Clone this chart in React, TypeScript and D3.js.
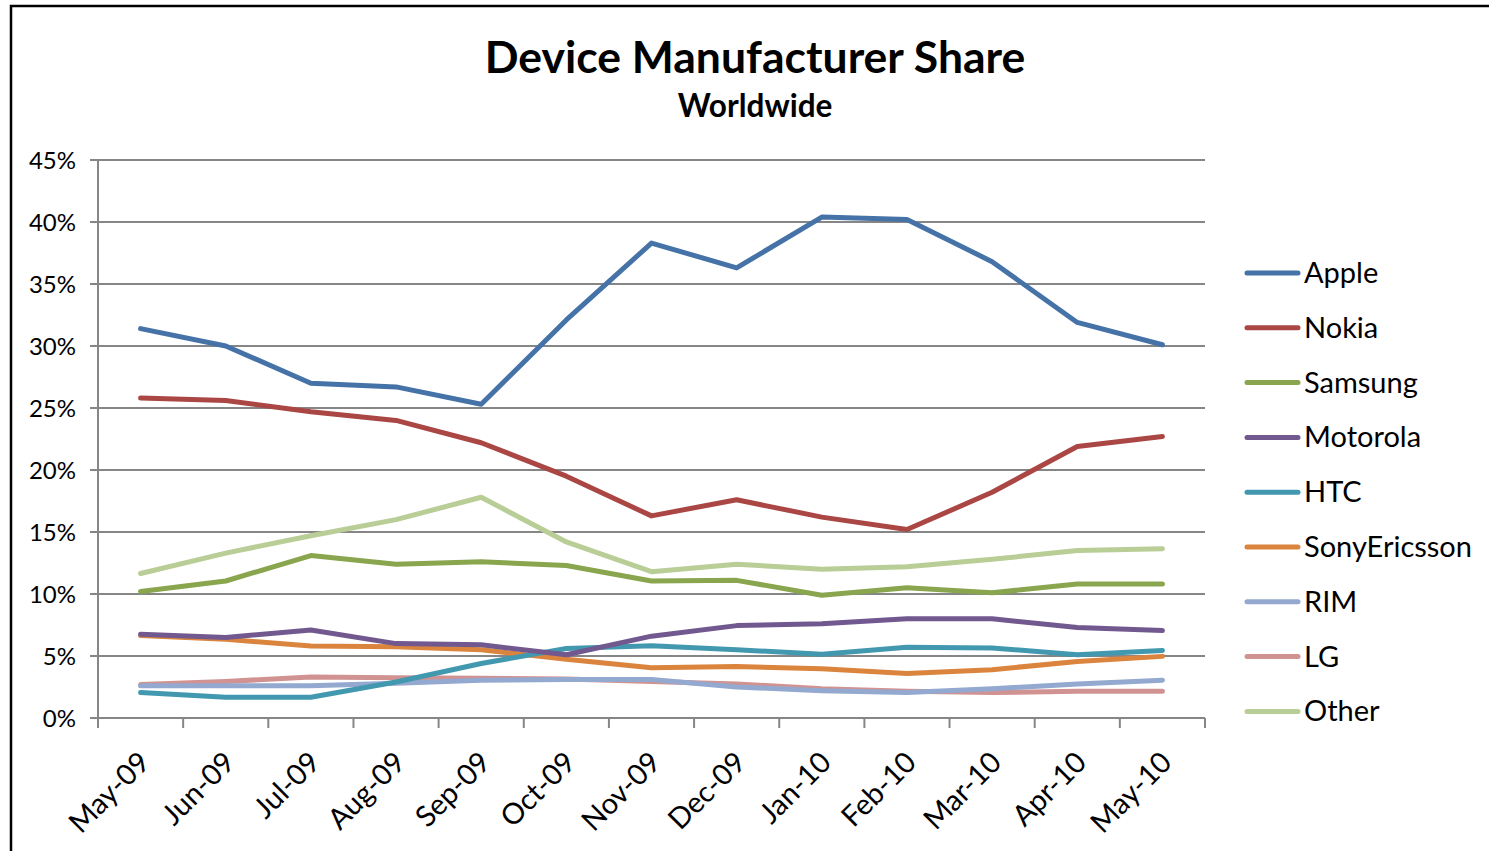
import React from "react";
import * as d3 from "d3";

const categories = ["May-09","Jun-09","Jul-09","Aug-09","Sep-09","Oct-09","Nov-09","Dec-09","Jan-10","Feb-10","Mar-10","Apr-10","May-10"];
const apple = [31.4, 30.0, 27.0, 26.7, 25.3, 32.1, 38.3, 36.3, 40.4, 40.2, 36.8, 31.9, 30.1];
const nokia = [25.8, 25.6, 24.7, 24.0, 22.2, 19.5, 16.3, 17.6, 16.2, 15.2, 18.2, 21.9, 22.7];
const samsung = [10.2, 11.05, 13.1, 12.4, 12.6, 12.3, 11.05, 11.1, 9.9, 10.5, 10.1, 10.8, 10.8];
const motorola = [6.75, 6.5, 7.1, 6.0, 5.9, 5.1, 6.6, 7.45, 7.6, 8.0, 8.0, 7.3, 7.05];
const htc = [2.05, 1.67, 1.67, 2.9, 4.4, 5.6, 5.83, 5.5, 5.15, 5.7, 5.65, 5.1, 5.45];
const sonyEricsson = [6.65, 6.35, 5.8, 5.75, 5.5, 4.73, 4.05, 4.15, 3.98, 3.58, 3.9, 4.55, 4.97];
const rim = [2.6, 2.6, 2.6, 2.8, 3.05, 3.1, 3.1, 2.5, 2.2, 2.05, 2.35, 2.75, 3.05];
const lg = [2.7, 2.95, 3.3, 3.25, 3.2, 3.15, 2.95, 2.75, 2.35, 2.15, 2.05, 2.15, 2.15];
const other = [11.65, 13.3, 14.7, 16.0, 17.8, 14.2, 11.8, 12.4, 12.0, 12.2, 12.8, 13.5, 13.65];
const yTicks = [0, 5, 10, 15, 20, 25, 30, 35, 40, 45];

const seriesNames = ["Apple","Nokia","Samsung","Motorola","HTC","SonyEricsson","RIM","LG","Other"];
const seriesValues = [apple, nokia, samsung, motorola, htc, sonyEricsson, rim, lg, other];
const seriesColors = ["#4572A7","#AA4643","#89A54E","#71588F","#4198AF","#DB843D","#93A9CF","#D19392","#B9CD96"];

const W = 1489, H = 851;
const plot = { left: 98, right: 1205, top: 160, bottom: 718 };
const FONT = "Lato, 'Open Sans', sans-serif";

export default function App() {
  const x = d3.scaleBand<string>().domain(categories).range([plot.left, plot.right]);
  const y = d3.scaleLinear().domain([0, 45]).range([plot.bottom, plot.top]);
  const cx = (c: string) => (x(c) as number) + x.bandwidth() / 2;
  const line = d3.line<number>().x((_, i) => cx(categories[i])).y((v) => y(v));
  const boundaries = d3.range(categories.length + 1).map((k) => plot.left + k * x.bandwidth());
  const drawOrder = [8, 7, 6, 5, 4, 3, 2, 1, 0];

  return (
    <svg width={W} height={H} style={{ position: "absolute", left: 0, top: 0, background: "#fff" }} fontFamily={FONT}>
      <rect x={0} y={0} width={W} height={H} fill="#fff" />
      <path d={`M11,${H + 5} V6 H${W + 5}`} fill="none" stroke="#000" strokeWidth={2.5} />
      <text x={755} y={73} textAnchor="middle" fontSize={44.5} fontWeight={700} fill="#000">Device Manufacturer Share</text>
      <text x={755} y={117} textAnchor="middle" fontSize={31.5} fontWeight={700} fill="#000">Worldwide</text>

      {yTicks.map((t) => (
        <g key={t}>
          {t > 0 && <line x1={plot.left} x2={plot.right} y1={y(t)} y2={y(t)} stroke="#868686" strokeWidth={2} />}
          <line x1={plot.left - 8} x2={plot.left} y1={y(t)} y2={y(t)} stroke="#868686" strokeWidth={2} />
          <text x={76} y={y(t) + 8.5} textAnchor="end" fontSize={24} fill="#000">{t}%</text>
        </g>
      ))}
      <line x1={plot.left} x2={plot.left} y1={plot.top} y2={plot.bottom} stroke="#868686" strokeWidth={2} />
      <line x1={plot.left} x2={plot.right} y1={plot.bottom} y2={plot.bottom} stroke="#868686" strokeWidth={2} />
      {boundaries.map((b, i) => (
        <line key={i} x1={b} x2={b} y1={plot.bottom} y2={plot.bottom + 10} stroke="#868686" strokeWidth={2} />
      ))}
      {categories.map((c) => (
        <text key={c} transform={`translate(${cx(c) + 11},${plot.bottom + 46}) rotate(-45)`} textAnchor="end" fontSize={29} fill="#000">{c}</text>
      ))}

      {drawOrder.map((i) => (
        <path key={seriesNames[i]} d={line(seriesValues[i]) || ""} fill="none" stroke={seriesColors[i]} strokeWidth={5} strokeLinejoin="round" strokeLinecap="round" />
      ))}

      {seriesNames.map((n, i) => {
        const ly = 273 + i * 54.8;
        return (
          <g key={n}>
            <line x1={1247} x2={1298} y1={ly} y2={ly} stroke={seriesColors[i]} strokeWidth={5} strokeLinecap="round" />
            <text x={1304} y={ly + 10} fontSize={29} fill="#000">{n}</text>
          </g>
        );
      })}
    </svg>
  );
}
